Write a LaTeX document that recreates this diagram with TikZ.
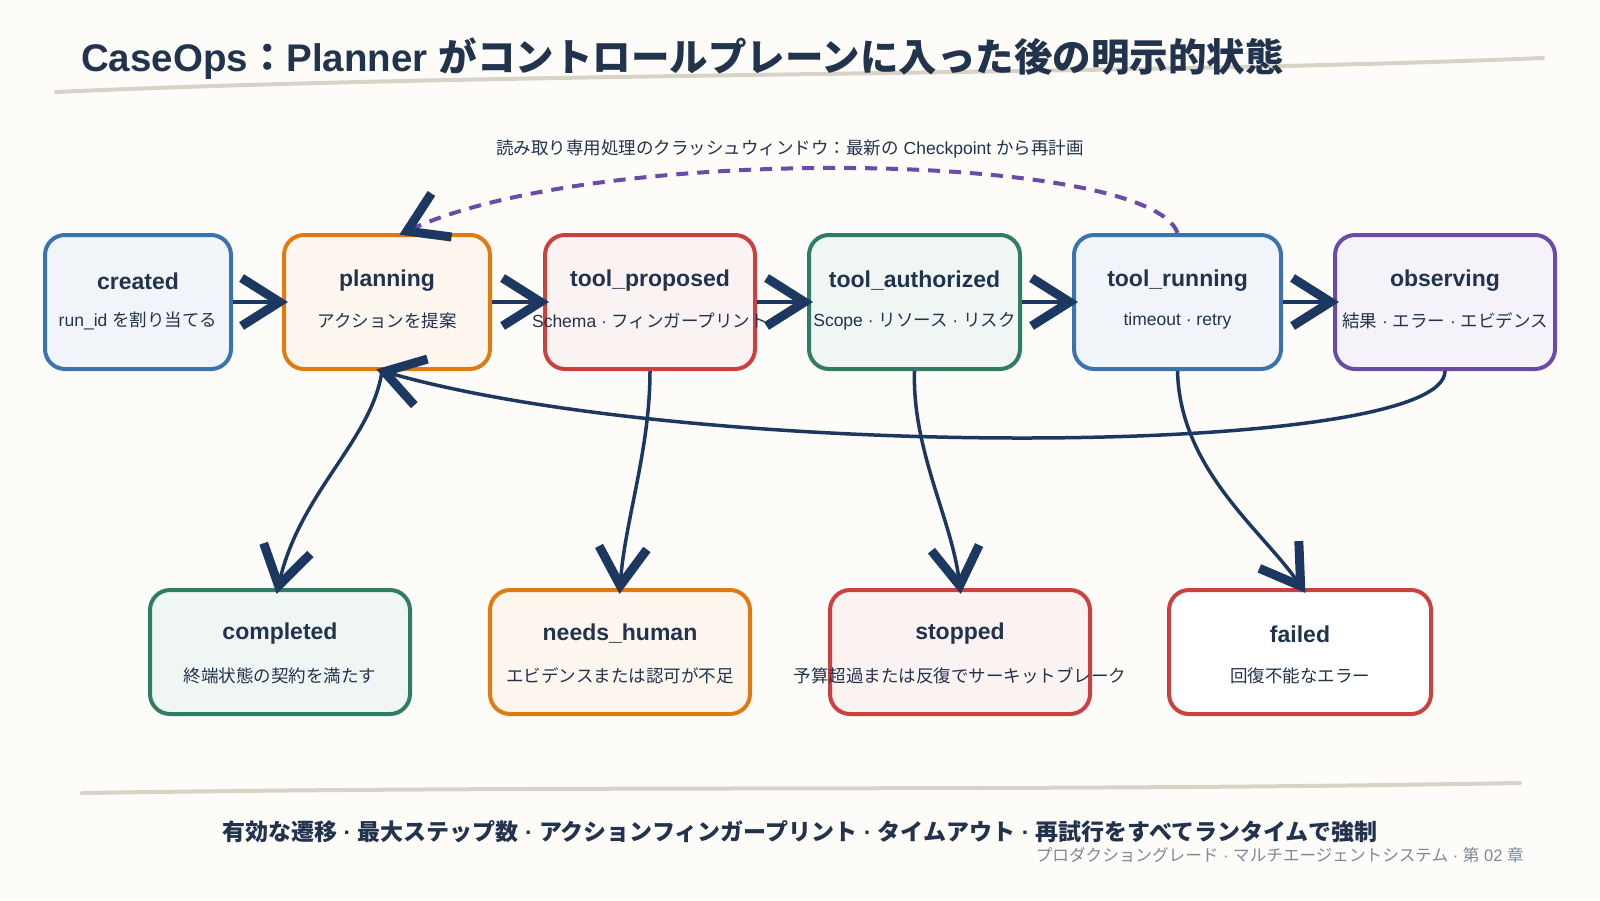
\documentclass[tikz,border=0pt]{standalone}
\usepackage{fontspec}
\setmainfont{Liberation Sans}
\newfontfamily\jpf{Noto Sans CJK JP}
\newcommand\jpt[1]{{\jpf #1}}
\usetikzlibrary{arrows.meta}
\definecolor{bg}{HTML}{FDFCF8}
\definecolor{ink}{HTML}{22334D}
\definecolor{navy}{HTML}{1C3860}
\definecolor{cblue}{HTML}{3A74B0}
\definecolor{corange}{HTML}{E07B10}
\definecolor{cred}{HTML}{CC4040}
\definecolor{cgreen}{HTML}{2E7D64}
\definecolor{cpurple}{HTML}{6A4BA8}
\definecolor{rule}{HTML}{D8D3C6}
\definecolor{capgray}{HTML}{7D8A9C}
\begin{document}
\begin{tikzpicture}[x=1pt,y=-1pt,
  stbox/.style={rectangle, rounded corners=20pt, line width=4pt, draw=#1, fill=#1!7!white, inner sep=0pt},
  sttitle/.style={font=\fontsize{23}{27}\selectfont\bfseries, text=ink, inner sep=0pt},
  stsub/.style={font=\fontsize{17.5}{21}\selectfont, text=ink, inner sep=0pt},
  tipv/.tip={Straight Barb[length=38pt,width=48pt,line width=9pt,color=navy]},
  conn/.style={draw=navy, line width=3.5pt, -tipv, shorten >=-6pt},
  dashconn/.style={draw=cpurple, line width=4pt, dash pattern=on 12pt off 9pt, -tipv, shorten >=-4pt},
  rulestyle/.style={draw=rule, line width=4pt, line cap=round}
]
\fill[bg] (0,0) rectangle (1600,900);
\useasboundingbox (0,0) rectangle (1600,900);

% title
\draw[rulestyle] (56,92) .. controls (500,72) and (1100,76) .. (1543,58);
\node[anchor=west, inner sep=0pt, text=ink, font=\fontsize{38.5}{46}\selectfont\bfseries] (title) at (81,59)
  {CaseOps\jpt{：}Planner \jpt{がコントロールプレーンに入った後の明示的状態}};

% top label
\node[stsub] (crashlbl) at (790,149) {\jpt{読み取り専用処理のクラッシュウィンドウ：最新の} Checkpoint \jpt{から再計画}};

% top row
\node[stbox=cblue, minimum width=186pt, minimum height=134pt] (created) at (138,302) {};
\node[stbox=corange, minimum width=206pt, minimum height=134pt] (planning) at (387,302) {};
\node[stbox=cred, minimum width=210pt, minimum height=134pt] (proposed) at (650,302) {};
\node[stbox=cgreen, minimum width=211pt, minimum height=134pt] (authorized) at (914.5,302) {};
\node[stbox=cblue, minimum width=207pt, minimum height=134pt] (running) at (1177.5,302) {};
\node[stbox=cpurple, minimum width=220pt, minimum height=134pt] (observing) at (1445,302) {};

\node[sttitle] (created-t) at (138,281) {created};
\node[stsub] (created-s) at (138,321) {run\_id \jpt{を割り当てる}};
\node[sttitle] (planning-t) at (387,281) {planning};
\node[stsub] (planning-s) at (387,321) {\jpt{アクションを提案}};
\node[sttitle] (proposed-t) at (650,281) {tool\_proposed};
\node[stsub] (proposed-s) at (650,321) {Schema · \jpt{フィンガープリント}};
\node[sttitle] (authorized-t) at (914.5,281) {tool\_authorized};
\node[stsub] (authorized-s) at (914.5,321) {Scope · \jpt{リソース} · \jpt{リスク}};
\node[sttitle] (running-t) at (1177.5,281) {tool\_running};
\node[stsub] (running-s) at (1177.5,321) {timeout · retry};
\node[sttitle] (observing-t) at (1445,281) {observing};
\node[stsub] (observing-s) at (1445,321) {\jpt{結果} · \jpt{エラー} · \jpt{エビデンス}};

% bottom row
\node[stbox=cgreen, minimum width=260pt, minimum height=124pt] (completed) at (280,652) {};
\node[stbox=corange, minimum width=260pt, minimum height=124pt] (needs) at (620,652) {};
\node[stbox=cred, minimum width=260pt, minimum height=124pt] (stopped) at (960,652) {};
\node[stbox=cred, fill=white, minimum width=262pt, minimum height=124pt] (failed) at (1300,652) {};

\node[sttitle] (completed-t) at (280,634) {completed};
\node[stsub] (completed-s) at (280,676) {\jpt{終端状態の契約を満たす}};
\node[sttitle] (needs-t) at (620,634) {needs\_human};
\node[stsub] (needs-s) at (620,676) {\jpt{エビデンスまたは認可が不足}};
\node[sttitle] (stopped-t) at (960,634) {stopped};
\node[stsub] (stopped-s) at (960,676) {\jpt{予算超過または反復でサーキットブレーク}};
\node[sttitle] (failed-t) at (1300,634) {failed};
\node[stsub] (failed-s) at (1300,676) {\jpt{回復不能なエラー}};

% horizontal transitions
\draw[conn] (created.east) -- (planning.west);
\draw[conn] (planning.east) -- (proposed.west);
\draw[conn] (proposed.east) -- (authorized.west);
\draw[conn] (authorized.east) -- (running.west);
\draw[conn] (running.east) -- (observing.west);

% back loop observing -> planning
\draw[conn] (observing.south) .. controls (1445,458) and (700,462) .. ([xshift=-5pt]planning.south);

% crash window dashed
\draw[dashconn] (running.north) .. controls (1150,152) and (600,142) .. ([xshift=16pt]planning.north);

% downward transitions
\draw[conn] ([xshift=-5pt]planning.south) .. controls (372,440) and (300,492) .. ([xshift=-2pt]completed.north);
\draw[conn] (proposed.south) .. controls (650,450) and (625,520) .. (needs.north);
\draw[conn] (authorized.south) .. controls (912,450) and (952,520) .. (stopped.north);
\draw[conn] (running.south) .. controls (1180,470) and (1262,530) .. ([xshift=2pt]failed.north);

% footer
\draw[rulestyle] (82,793) .. controls (600,785) and (1000,792) .. (1520,783);
\node[inner sep=0pt, text=ink, font=\fontsize{23}{27}\selectfont\bfseries] (footer) at (800,832)
  {\jpt{有効な遷移} · \jpt{最大ステップ数} · \jpt{アクションフィンガープリント} · \jpt{タイムアウト} · \jpt{再試行をすべてランタイムで強制}};
\node[anchor=east, inner sep=0pt, text=capgray, font=\fontsize{16.6}{20}\selectfont] (caption) at (1524,855)
  {\jpt{プロダクショングレード} · \jpt{マルチエージェントシステム} · \jpt{第} 02 \jpt{章}};
\end{tikzpicture}
\end{document}
